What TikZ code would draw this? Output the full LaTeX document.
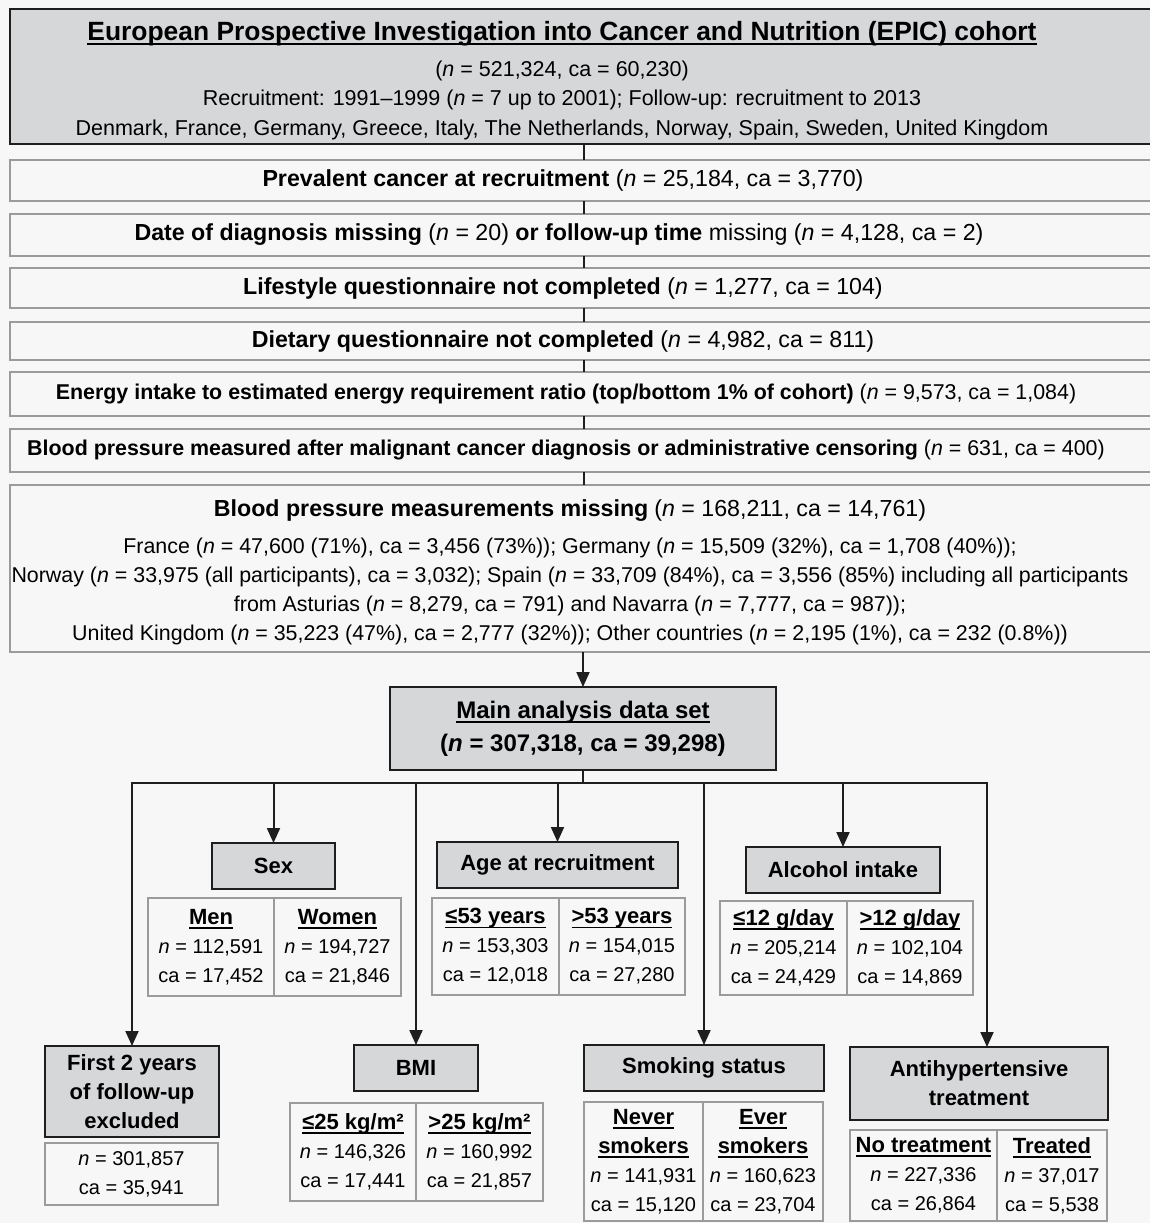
\documentclass[tikz,border=0pt]{standalone}
\usepackage{fontspec}
\setmainfont{Liberation Sans}
\usetikzlibrary{arrows.meta,positioning,calc}

\definecolor{pagebg}{HTML}{F7F7F7}
\definecolor{headfill}{HTML}{D6D7D9}
\definecolor{darkline}{HTML}{1E1E1E}
\definecolor{greyline}{HTML}{9B9B9D}

\newcommand{\nsym}{\textit{n}}
\newcommand{\ulined}[1]{\begingroup\setbox0\hbox{#1}\rlap{\rule[-2.2pt]{\wd0}{0.9pt}}\box0\endgroup}
\newcommand{\colhead}[1]{{\fontsize{11}{14.5}\selectfont\bfseries\ulined{#1}}}

\begin{document}
\begin{tikzpicture}[x=0.5pt, y=-0.5pt, inner sep=0pt, outer sep=0pt]
    \tikzset{>={Triangle[length=7.5pt,width=6.5pt]}}
    \tikzset{
      headbox/.style  = {draw=darkline, fill=headfill, line width=1.3pt, align=center,
                         font=\bfseries\fontsize{11}{14.5}\selectfont},
      exclbox/.style  = {draw=greyline, fill=pagebg, line width=1pt,
                         minimum width=574pt, minimum height=20.5pt},
      excltext/.style = {align=center, xshift=-10.5pt, font=\fontsize{11.6}{14.5}\selectfont},
      cellbox/.style  = {draw=greyline, fill=pagebg, line width=1pt, align=center,
                         font=\fontsize{10}{14.5}\selectfont},
      link/.style     = {draw=darkline, line width=1pt},
      thinlink/.style = {draw=darkline, line width=0.8pt}
    }

    \useasboundingbox (0,0) rectangle (1150,1223);
    \clip (0,0) rectangle (1150,1223);
    \fill[pagebg] (0,0) rectangle (1150,1223);

    % cohort and exclusions
    \node[headbox, minimum width=574pt, minimum height=67.5pt] (epic) at (584,76.5) {};
    \node[excltext, xshift=-0.5pt, yshift=-2pt, font=\fontsize{10.75}{14.75}\selectfont] (epictext) at (epic)
      {{\bfseries\fontsize{13.2}{15}\selectfont\ulined{European Prospective Investigation into Cancer and Nutrition (EPIC) cohort}}\\[3pt]
       (\nsym{} = 521,324, ca = 60,230)\\
       Recruitment: 1991–1999 (\nsym{} = 7 up to 2001); Follow-up: recruitment to 2013\\
       Denmark, France, Germany, Greece, Italy, The Netherlands, Norway, Spain, Sweden, United Kingdom};

    \node[exclbox] (prev) at (584,180.5) {};
    \node[excltext] (prevtext) at (prev)
      {{\bfseries Prevalent cancer at recruitment} (\nsym{} = 25,184, ca = 3,770)};
    \node[exclbox, minimum height=21pt] (date) at (584,235) {};
    \node[excltext, xshift=-2pt] (datetext) at (date)
      {{\bfseries Date of diagnosis missing} (\nsym{} = 20) {\bfseries or follow-up time} missing (\nsym{} = 4,128, ca = 2)};
    \node[exclbox, minimum height=20pt] (life) at (584,288) {};
    \node[excltext] (lifetext) at (life)
      {{\bfseries Lifestyle questionnaire not completed} (\nsym{} = 1,277, ca = 104)};
    \node[exclbox, minimum height=19pt] (diet) at (584,341) {};
    \node[excltext] (diettext) at (diet)
      {{\bfseries Dietary questionnaire not completed} (\nsym{} = 4,982, ca = 811)};
    \node[exclbox, minimum height=22pt] (energy) at (584,394) {};
    \node[excltext, xshift=1.5pt, font=\fontsize{10.7}{14.5}\selectfont] (energytext) at (energy)
      {{\bfseries Energy intake to estimated energy requirement ratio (top/bottom 1\% of cohort)} (\nsym{} = 9,573, ca = 1,084)};
    \node[exclbox, minimum height=21.5pt] (bpafter) at (584,450.5) {};
    \node[excltext, xshift=1.5pt, font=\fontsize{10.7}{14.5}\selectfont] (bpaftertext) at (bpafter)
      {{\bfseries Blood pressure measured after malignant cancer diagnosis or administrative censoring} (\nsym{} = 631, ca = 400)};
    \node[exclbox, minimum height=83.5pt] (bpmiss) at (584,568.5) {};
    \node[excltext, xshift=3.5pt, yshift=-2pt, font=\fontsize{10.7}{14.5}\selectfont] (bpmisstext) at (bpmiss)
      {{\bfseries\fontsize{11.6}{14.5}\selectfont Blood pressure measurements missing} {\fontsize{11.6}{14.5}\selectfont(\nsym{} = 168,211, ca = 14,761)}\\[4pt]
       France (\nsym{} = 47,600 (71\%), ca = 3,456 (73\%)); Germany (\nsym{} = 15,509 (32\%), ca = 1,708 (40\%));\\
       Norway (\nsym{} = 33,975 (all participants), ca = 3,032); Spain (\nsym{} = 33,709 (84\%), ca = 3,556 (85\%) including all participants\\
       from Asturias (\nsym{} = 8,279, ca = 791) and Navarra (\nsym{} = 7,777, ca = 987));\\
       United Kingdom (\nsym{} = 35,223 (47\%), ca = 2,777 (32\%)); Other countries (\nsym{} = 2,195 (1\%), ca = 232 (0.8\%))};

    \foreach \a/\b in {epic/prev, prev/date, date/life, life/diet, diet/energy, energy/bpafter, bpafter/bpmiss}
      \draw[thinlink] (\a) -- (\b);

    % main data set
    \node[headbox, minimum width=193pt, minimum height=41.5pt,
          font=\bfseries\fontsize{12}{16.5}\selectfont] (main) at (583,728.5)
      {\ulined{Main analysis data set}\\(\nsym{} = 307,318, ca = 39,298)};
    \draw[link, ->] (main.north |- bpmiss.south) -- (main.north);

    % stratification boxes
    \node[headbox, minimum width=61.5pt, minimum height=23pt] (sex) at (273.5,866) {Sex};
    \node[headbox, minimum width=120.5pt, minimum height=23pt] (age) at (557.5,865) {Age at recruitment};
    \node[headbox, minimum width=97pt, minimum height=23pt] (alcohol) at (843,870) {Alcohol intake};
    \node[headbox, minimum width=87pt, minimum height=45.5pt] (first) at (132,1091.5) {First 2 years\\of follow-up\\excluded};
    \node[headbox, minimum width=62pt, minimum height=23pt] (bmi) at (416,1068) {BMI};
    \node[headbox, minimum width=120pt, minimum height=23pt] (smoke) at (704,1068) {Smoking status};
    \node[headbox, minimum width=129pt, minimum height=36.5pt] (anti) at (979,1083.5) {Antihypertensive\\treatment};

    % result cells
    \node[cellbox, minimum width=63pt, minimum height=49pt] (men) at (211,947)
      {\colhead{Men}\\\nsym{} = 112,591\\ca = 17,452};
    \node[cellbox, minimum width=63.5pt, minimum height=49pt, right=0pt of men] (women)
      {\colhead{Women}\\\nsym{} = 194,727\\ca = 21,846};

    \node[cellbox, minimum width=63.5pt, minimum height=48.5pt] (young) at (495.5,946.5)
      {\colhead{≤53 years}\\\nsym{} = 153,303\\ca = 12,018};
    \node[cellbox, minimum width=63pt, minimum height=48.5pt, right=0pt of young] (old)
      {\colhead{>53 years}\\\nsym{} = 154,015\\ca = 27,280};

    \node[cellbox, minimum width=63.5pt, minimum height=47pt] (lowalc) at (783.5,948)
      {\colhead{≤12 g/day}\\\nsym{} = 205,214\\ca = 24,429};
    \node[cellbox, minimum width=63pt, minimum height=47pt, right=0pt of lowalc] (highalc)
      {\colhead{>12 g/day}\\\nsym{} = 102,104\\ca = 14,869};

    \node[cellbox, minimum width=86.5pt, minimum height=31pt] (firstn) at (131.5,1174)
      {\nsym{} = 301,857\\ca = 35,941};

    \node[cellbox, minimum width=63pt, minimum height=49pt] (lowbmi) at (353,1152)
      {\colhead{≤25 kg/m²}\\\nsym{} = 146,326\\ca = 17,441};
    \node[cellbox, minimum width=63.5pt, minimum height=49pt, right=0pt of lowbmi] (highbmi)
      {\colhead{>25 kg/m²}\\\nsym{} = 160,992\\ca = 21,857};

    \node[cellbox, minimum width=59.5pt, minimum height=59.5pt] (never) at (643.5,1161.5)
      {\colhead{Never}\\\colhead{smokers}\\\nsym{} = 141,931\\ca = 15,120};
    \node[cellbox, minimum width=60pt, minimum height=59.5pt, right=0pt of never] (ever)
      {\colhead{Ever}\\\colhead{smokers}\\\nsym{} = 160,623\\ca = 23,704};

    \node[cellbox, minimum width=73.5pt, minimum height=45.5pt] (notreat) at (923.5,1175.5)
      {\colhead{No treatment}\\\nsym{} = 227,336\\ca = 26,864};
    \node[cellbox, minimum width=55pt, minimum height=45.5pt, right=0pt of notreat] (treated)
      {\colhead{Treated}\\\nsym{} = 37,017\\ca = 5,538};

    % branches
    \coordinate (split) at (583,783);
    \coordinate (antitop) at ([xshift=4pt]anti.north);
    \draw[link] (main) -- (split);
    \draw[link, <->] (first.north) -- (first.north |- split) -- (antitop |- split) -- (antitop);
    \foreach \c in {sex,bmi,age,smoke,alcohol}
      \draw[link, ->] (\c.north |- split) -- (\c.north);
\end{tikzpicture}
\end{document}
